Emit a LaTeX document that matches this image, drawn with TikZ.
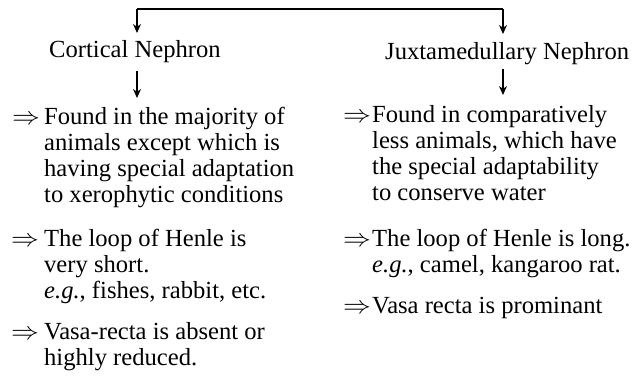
\documentclass[tikz,border=0pt]{standalone}
\usepackage{fontspec}
\setmainfont{Liberation Serif}
\usetikzlibrary{arrows.meta}
\begin{document}
\begin{tikzpicture}[x=1pt,y=-1pt,
  txt/.style={anchor=base west,inner sep=0pt,font=\fontsize{24.6}{26}\selectfont},
  imp/.style={anchor=base west,inner sep=0pt,font=\fontsize{24.6}{26}\selectfont},
  arr/.style={line width=1.4pt,-{Stealth[length=9pt,width=8pt]}},
  conn/.style={line width=1.4pt}]
\useasboundingbox (0,0) rectangle (638,376);
% headings
\node[txt] (cort) at (49,57) {Cortical Nephron};
\node[txt] (juxt) at (385,59) {Juxtamedullary Nephron};
% top connector
\coordinate (topL) at (137,9);
\coordinate (topR) at (503,9);
\coordinate (cortIn) at (137,33);
\coordinate (juxtIn) at (503,34);
\draw[conn] (topL) -- (topR);
\draw[arr] (topL) -- (cortIn);
\draw[arr] (topR) -- (juxtIn);
% heading arrows
\coordinate (cortOut) at (137,71);
\coordinate (cortEnd) at (137,98);
\coordinate (juxtOut) at (503,69);
\coordinate (juxtEnd) at (503,95);
\draw[arr] (cortOut) -- (cortEnd);
\draw[arr] (juxtOut) -- (juxtEnd);
% left column
\node[imp] (ci1) at (12,124) {\scalebox{1.12}[1]{$\Rightarrow$}};
\node[txt] (c1a) at (44,124) {Found in the majority of};
\node[txt] (c1b) at (44,150) {animals except which is};
\node[txt] (c1c) at (44,176) {having special adaptation};
\node[txt] (c1d) at (44,202) {to xerophytic conditions};
\node[imp] (ci2) at (11,246) {\scalebox{1.12}[1]{$\Rightarrow$}};
\node[txt] (c2a) at (44,246) {The loop of Henle is};
\node[txt] (c2b) at (44,272) {very short.};
\node[txt] (c2c) at (44,298) {\textit{e.g.}, fishes, rabbit, etc.};
\node[imp] (ci3) at (11,339) {\scalebox{1.12}[1]{$\Rightarrow$}};
\node[txt] (c3a) at (44,339) {Vasa-recta is absent or};
\node[txt] (c3b) at (44,365) {highly reduced.};
% right column
\node[imp] (ji1) at (343,122) {\scalebox{1.12}[1]{$\Rightarrow$}};
\node[txt] (j1a) at (372,122) {Found in comparatively};
\node[txt] (j1b) at (372,148) {less animals, which have};
\node[txt] (j1c) at (372,174) {the special adaptability};
\node[txt] (j1d) at (372,200) {to conserve water};
\node[imp] (ji2) at (343,246) {\scalebox{1.12}[1]{$\Rightarrow$}};
\node[txt] (j2a) at (372,246) {The loop of Henle is long.};
\node[txt] (j2b) at (372,272) {\textit{e.g.}, camel, kangaroo rat.};
\node[imp] (ji3) at (343,313) {\scalebox{1.12}[1]{$\Rightarrow$}};
\node[txt] (j3a) at (372,313) {Vasa recta is prominant};
\end{tikzpicture}
\end{document}
